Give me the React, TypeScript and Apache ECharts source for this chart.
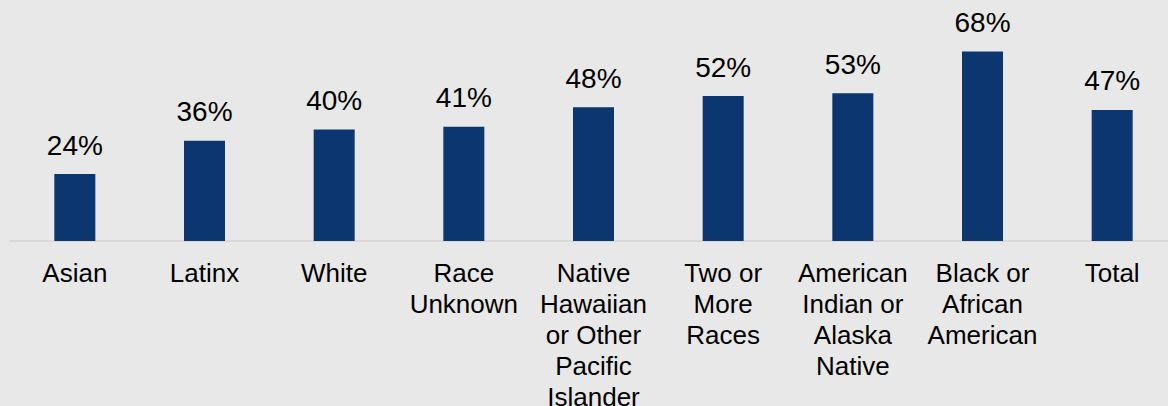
import React, { useEffect, useRef } from "react";
import * as echarts from "echarts";

const categories = [
  "Asian",
  "Latinx",
  "White",
  "Race\nUnknown",
  "Native\nHawaiian\nor Other\nPacific\nIslander",
  "Two or\nMore\nRaces",
  "American\nIndian or\nAlaska\nNative",
  "Black or\nAfrican\nAmerican",
  "Total",
];
const values = [24, 36, 40, 41, 48, 52, 53, 68, 47];

export default function App() {
  const ref = useRef<HTMLDivElement>(null);
  useEffect(() => {
    document.body.style.margin = "0";
    const chart = echarts.init(ref.current!, null, { renderer: "svg" });
    chart.setOption({
      animation: false,
      backgroundColor: "#e8e8e8",
      grid: {
        left: 10,
        width: 1167,
        top: 18,
        bottom: 165,
        containLabel: false,
        outerBoundsMode: "none",
      },
      xAxis: {
        type: "category",
        data: categories,
        axisLine: { show: true, lineStyle: { color: "#d9d9d9", width: 2 } },
        axisTick: { show: false },
        axisLabel: {
          interval: 0,
          margin: 16,
          color: "#000",
          fontFamily: "Liberation Sans, Arial, sans-serif",
          fontSize: 26,
          lineHeight: 31,
        },
      },
      yAxis: {
        type: "value",
        min: 0,
        max: 80,
        show: false,
        splitLine: { show: false },
      },
      series: [
        {
          type: "bar",
          data: values,
          barWidth: 41,
          itemStyle: { color: "#0b3670" },
          label: {
            show: true,
            position: "top",
            distance: 15,
            formatter: "{c}%",
            color: "#000",
            fontFamily: "Liberation Sans, Arial, sans-serif",
            fontSize: 28,
          },
        },
      ],
    });
    return () => chart.dispose();
  }, []);
  return (
    <div
      ref={ref}
      style={{ position: "absolute", left: 0, top: 0, width: 1168, height: 406 }}
    />
  );
}
